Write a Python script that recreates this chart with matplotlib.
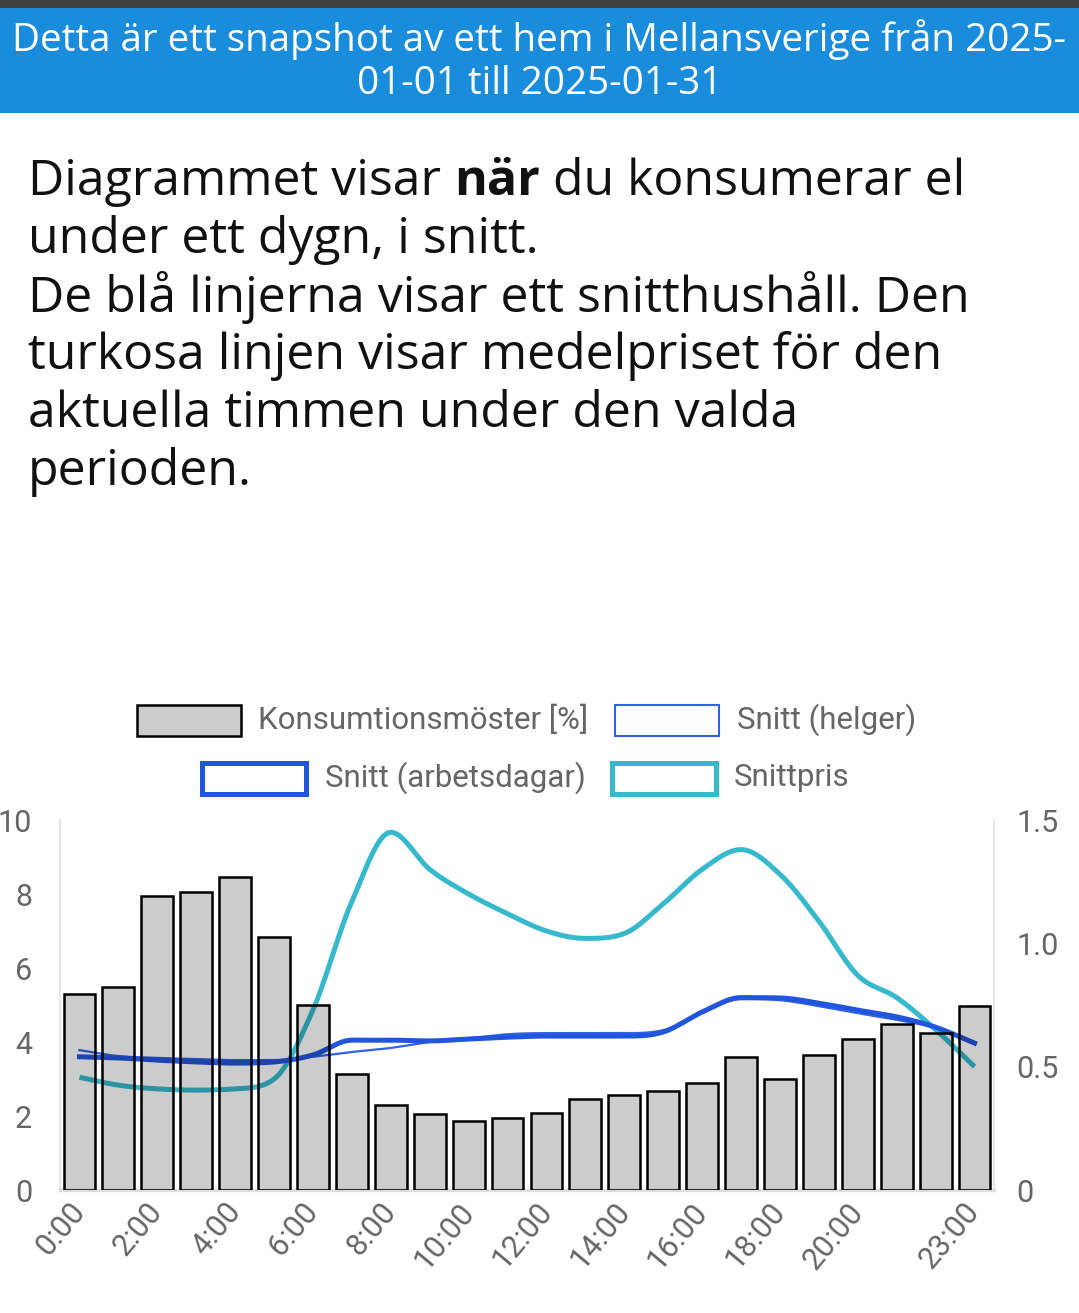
import numpy as np
import matplotlib
matplotlib.use("Agg")
import matplotlib.pyplot as plt
from matplotlib.patches import Rectangle

# data
hours = list(range(24))
tick_hours = [0, 2, 4, 6, 8, 10, 12, 14, 16, 18, 20, 23]
tick_labels = [f"{h}:00" for h in tick_hours]

pattern = [5.3, 5.49, 7.95, 8.05, 8.46, 6.84, 5.0, 3.14, 2.3, 2.05, 1.86, 1.95,
           2.08, 2.45, 2.57, 2.68, 2.9, 3.59, 3.0, 3.65, 4.08, 4.5, 4.24, 4.97]
weekend = [3.78, 3.62, 3.57, 3.54, 3.51, 3.51, 3.6, 3.73, 3.84, 4.0, 4.1, 4.21,
           4.24, 4.24, 4.24, 4.32, 4.78, 5.16, 5.13, 4.97, 4.78, 4.6, 4.38, 3.97]
weekday = [3.6, 3.57, 3.51, 3.46, 3.43, 3.46, 3.65, 4.05, 4.05, 4.03, 4.08, 4.13,
           4.16, 4.16, 4.16, 4.27, 4.81, 5.2, 5.19, 5.05, 4.86, 4.68, 4.4, 3.97]
price = [0.457, 0.425, 0.41, 0.405, 0.41, 0.45, 0.73, 1.17, 1.45, 1.30, 1.20, 1.12,
         1.05, 1.02, 1.04, 1.16, 1.30, 1.38, 1.28, 1.09, 0.87, 0.78, 0.65, 0.50]

W, H = 1079, 1313
GRAY = "#666666"
BLUE = "#2255dd"
BLUE_THIN = "#2f62e4"
CYAN = "#36b9cc"


def monotone(x, y, n=24):
    # monotone cubic (Fritsch-Carlson), like chart.js 'monotone'
    x = np.asarray(x, float)
    y = np.asarray(y, float)
    d = np.diff(y) / np.diff(x)
    m = np.zeros_like(y)
    m[0], m[-1] = d[0], d[-1]
    for i in range(1, len(y) - 1):
        if d[i - 1] * d[i] <= 0:
            m[i] = 0
        else:
            m[i] = (d[i - 1] + d[i]) / 2
    for i in range(len(d)):
        if d[i] == 0:
            m[i] = m[i + 1] = 0
            continue
        a, b = m[i] / d[i], m[i + 1] / d[i]
        s = a * a + b * b
        if s > 9:
            t = 3 / np.sqrt(s)
            m[i], m[i + 1] = t * a * d[i], t * b * d[i]
    xs, ys = [], []
    for i in range(len(d)):
        h = x[i + 1] - x[i]
        t = np.linspace(0, 1, n, endpoint=False)
        h00 = 2 * t**3 - 3 * t**2 + 1
        h10 = t**3 - 2 * t**2 + t
        h01 = -2 * t**3 + 3 * t**2
        h11 = t**3 - t**2
        xs.append(x[i] + t * h)
        ys.append(h00 * y[i] + h10 * h * m[i] + h01 * y[i + 1] + h11 * h * m[i + 1])
    xs.append([x[-1]])
    ys.append([y[-1]])
    return np.concatenate(xs), np.concatenate(ys)


def fx(x):
    return x / W


def fy(y):
    return 1 - y / H


fig = plt.figure(figsize=(W / 100, H / 100), dpi=100)

# header
fig.add_artist(Rectangle((0, fy(8)), 1, 8 / H, transform=fig.transFigure,
                         color="#3f3f3f", lw=0))
fig.add_artist(Rectangle((0, fy(113)), 1, 105 / H, transform=fig.transFigure,
                         color="#1a8cdc", lw=0))
title_font = "Open Sans"
fig.text(0.5, fy(40), "Detta är ett snapshot av ett hem i Mellansverige från 2025-",
         color="white", fontsize=27.8, family=title_font, ha="center", va="center")
fig.text(0.5, fy(84), "01-01 till 2025-01-31",
         color="white", fontsize=27.8, family=title_font, ha="center", va="center")

# description text
body_size = 36
lines = ["under ett dygn, i snitt.",
         "De blå linjerna visar ett snitthushåll. Den",
         "turkosa linjen visar medelpriset för den",
         "aktuella timmen under den valda",
         "perioden."]
renderer = fig.canvas.get_renderer()
x0 = 28
parts = [("Diagrammet visar ", "normal"), ("när", "bold"), (" du konsumerar el", "normal")]
for txt, wt in parts:
    t = fig.text(fx(x0), fy(182), txt, fontsize=body_size, family=title_font,
                 weight=wt, ha="left", va="center", color="#111111")
    x0 = t.get_window_extent(renderer).x1
for i, txt in enumerate(lines):
    fig.text(fx(28), fy(240 + 58 * i), txt, fontsize=body_size, family=title_font,
             ha="left", va="center", color="#111111")

# legend (drawn by hand so each row is centred like the original)
legend = [
    (137, 705, "#cccccc", "black", 1.8, "Konsumtionsmöster [%]", 258),
    (615, 705, "white", BLUE_THIN, 1.5, "Snitt (helger)", 737),
    (202, 763, "white", BLUE, 3.6, "Snitt (arbetsdagar)", 325),
    (612, 763, "white", CYAN, 3.6, "Snittpris", 734),
]
for bx, by, fc, ec, lw, label, tx in legend:
    fig.add_artist(Rectangle((fx(bx), fy(by + 31)), 104 / W, 31 / H,
                             transform=fig.transFigure, facecolor=fc,
                             edgecolor=ec, lw=lw))
    fig.text(fx(tx), fy(by + 15), label, fontsize=22.5, family="Roboto",
             color=GRAY, ha="left", va="center")

# chart
ax = fig.add_axes([fx(60), fy(1190), 934 / W, 370 / H])
ax2 = ax.twinx()
ax.set_zorder(ax2.get_zorder() + 1)
ax.patch.set_visible(False)

px, py = monotone(hours, price)
ax2.plot(px, py, color=CYAN, lw=3.6, solid_capstyle="butt")

wx, wy = monotone(hours, weekend)
ax.plot(wx, wy, color=BLUE_THIN, lw=1.6, zorder=2)
dx, dy = monotone(hours, weekday)
ax.plot(dx, dy, color=BLUE, lw=3.6, zorder=2)

ax.bar(hours, pattern, width=0.82, facecolor=(0, 0, 0, 0.2),
       edgecolor="black", linewidth=1.8, zorder=3)

ax.set_xlim(-0.5, 23.5)
ax.set_ylim(0, 10)
ax2.set_ylim(0, 1.5)
ax.set_yticks([0, 2, 4, 6, 8, 10])
ax2.set_yticks([0, 0.5, 1.0, 1.5])
ax2.set_yticklabels(["0", "0.5", "1.0", "1.5"])
ax.set_xticks(tick_hours)
ax.set_xticklabels(tick_labels)

for a in (ax, ax2):
    for s in a.spines.values():
        s.set_visible(False)
ax.spines["left"].set_visible(True)
ax.spines["left"].set_color("#e2e2e2")
ax.spines["left"].set_linewidth(1.2)
ax2.spines["right"].set_visible(True)
ax2.spines["right"].set_color("#e2e2e2")
ax2.spines["right"].set_linewidth(1.2)
ax.spines["bottom"].set_visible(True)
ax.spines["bottom"].set_color("#dddddd")
ax.spines["bottom"].set_linewidth(2.5)

ax.tick_params(axis="y", length=0, pad=20, labelsize=22, labelcolor=GRAY)
ax2.tick_params(axis="y", length=0, pad=16, labelsize=22, labelcolor=GRAY)
ax.tick_params(axis="x", length=0, pad=12, labelsize=22, labelcolor=GRAY)
for lab in ax.get_xticklabels() + ax.get_yticklabels() + ax2.get_yticklabels():
    lab.set_family("Roboto")
plt.setp(ax.get_xticklabels(), rotation=50, ha="right", va="center",
         rotation_mode="anchor")

fig.savefig("out.png", dpi=100)
